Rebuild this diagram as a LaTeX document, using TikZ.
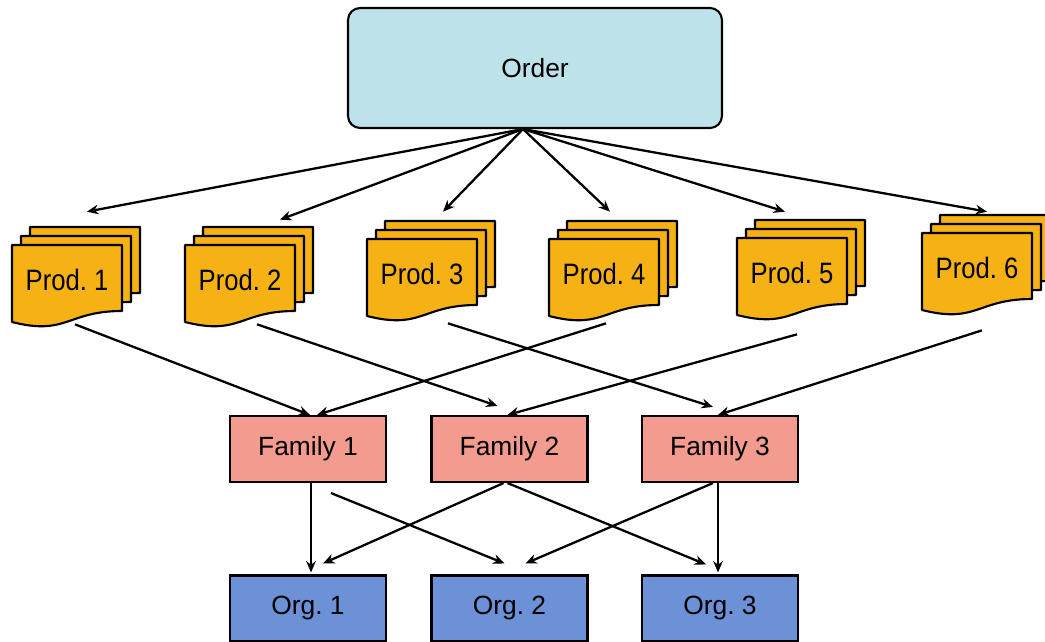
\documentclass[tikz,border=0pt]{standalone}
\usepackage{fontspec}
\setmainfont{Liberation Sans}
\frenchspacing
\usetikzlibrary{arrows.meta}
\definecolor{orderblue}{RGB}{190,226,234}
\definecolor{prodorange}{RGB}{246,178,20}
\definecolor{familyred}{RGB}{242,155,142}
\definecolor{orgblue}{RGB}{108,145,214}
\tikzset{
	box/.style={draw, line width=1.2pt, minimum width=3.12cm, minimum height=1.32cm, font=\fontsize{15}{18}\selectfont},
	orderbox/.style={box, rounded corners=0.24cm, fill=orderblue, minimum width=7.48cm, minimum height=2.4cm},
	familybox/.style={box, fill=familyred},
	orgbox/.style={box, fill=orgblue},
	prodsheet/.style={draw, line width=1.2pt, fill=prodorange, line join=round},
	prodtext/.style={inner sep=0pt, minimum width=2.2cm, minimum height=1.4cm, font=\fontsize{14.6}{18}\selectfont},
	link/.style={draw, line width=1.3pt, -{Stealth[length=6.5pt,width=5.5pt]}}
}
% stack of three product sheets: name, x, y (top left of front sheet), label
\newcommand{\prodstack}[4]{%
	\foreach \d in {18,9,0}
		\draw[prodsheet, shift={(#2+\d,#3-\d)}] (0,0) -- (110,0) -- (110,66) .. controls (55,66) and (55,91) .. (0,77) -- cycle;
	\node[prodtext] (#1) at (#2+55,#3+35) {\scalebox{1}[1.15]{#4}};
}

\begin{document}
\begin{tikzpicture}[x=0.02cm, y=-0.02cm]
\useasboundingbox (0,0) rectangle (1045,642);

\node[orderbox] (order) at (535,68) {Order};

\prodstack{p1}{12}{245}{Prod. 1}
\prodstack{p2}{185}{245}{Prod. 2}
\prodstack{p3}{367}{239}{Prod. 3}
\prodstack{p4}{549}{239}{Prod. 4}
\prodstack{p5}{737}{238}{Prod. 5}
\prodstack{p6}{922}{233}{Prod. 6}

\node[familybox] (f1) at (308,449) {Family 1};
\node[familybox] (f2) at (509.5,449) {Family 2};
\node[familybox] (f3) at (720,449) {Family 3};

\node[orgbox] (o1) at (308,608.5) {Org. 1};
\node[orgbox] (o2) at (509.5,608.5) {Org. 2};
\node[orgbox] (o3) at (720,608.5) {Org. 3};

% order to products
\draw[link] ([shift={(-12,0)}]order.south) -- ([shift={(20,-33)}]p1.north);
\draw[link] ([shift={(-12,0)}]order.south) -- ([shift={(40,-25)}]p2.north);
\draw[link] ([shift={(-12,0)}]order.south) -- ([shift={(21,-27)}]p3.north);
\draw[link] ([shift={(-12,0)}]order.south) -- ([shift={(6,-27)}]p4.north);
\draw[link] ([shift={(-12,0)}]order.south) -- ([shift={(-7,-26)}]p5.north);
\draw[link] ([shift={(-12,0)}]order.south) -- ([shift={(10,-21)}]p6.north);

% products to families
\draw[link] ([shift={(8,9)}]p1.south) -- ([shift={(2,0)}]f1.north);
\draw[link] ([shift={(17,9)}]p2.south) -- ([shift={(-12,-9)}]f2.north);
\draw[link] ([shift={(26,14)}]p3.south) -- ([shift={(-7,-8)}]f3.north);
\draw[link] ([shift={(2,14)}]p4.south) -- ([shift={(9,0)}]f1.north);
\draw[link] ([shift={(5,26)}]p5.south) -- ([shift={(-2,0)}]f2.north);
\draw[link] ([shift={(5,27)}]p6.south) -- ([shift={(-2,0)}]f3.north);

% families to organisations
\draw[link] ([shift={(3,0)}]f1.south) -- ([shift={(3,-2)}]o1.north);
\draw[link] ([shift={(23,10)}]f1.south) -- ([shift={(-5,-11)}]o2.north);
\draw[link] ([shift={(-6,0)}]f2.south) -- ([shift={(15,-11)}]o1.north);
\draw[link] ([shift={(-2,0)}]f2.south) -- ([shift={(-14,-10)}]o3.north);
\draw[link] ([shift={(-7,0)}]f3.south) -- ([shift={(16,-11)}]o2.north);
\draw[link] ([shift={(-2,0)}]f3.south) -- ([shift={(-2,-2)}]o3.north);
\end{tikzpicture}
\end{document}
